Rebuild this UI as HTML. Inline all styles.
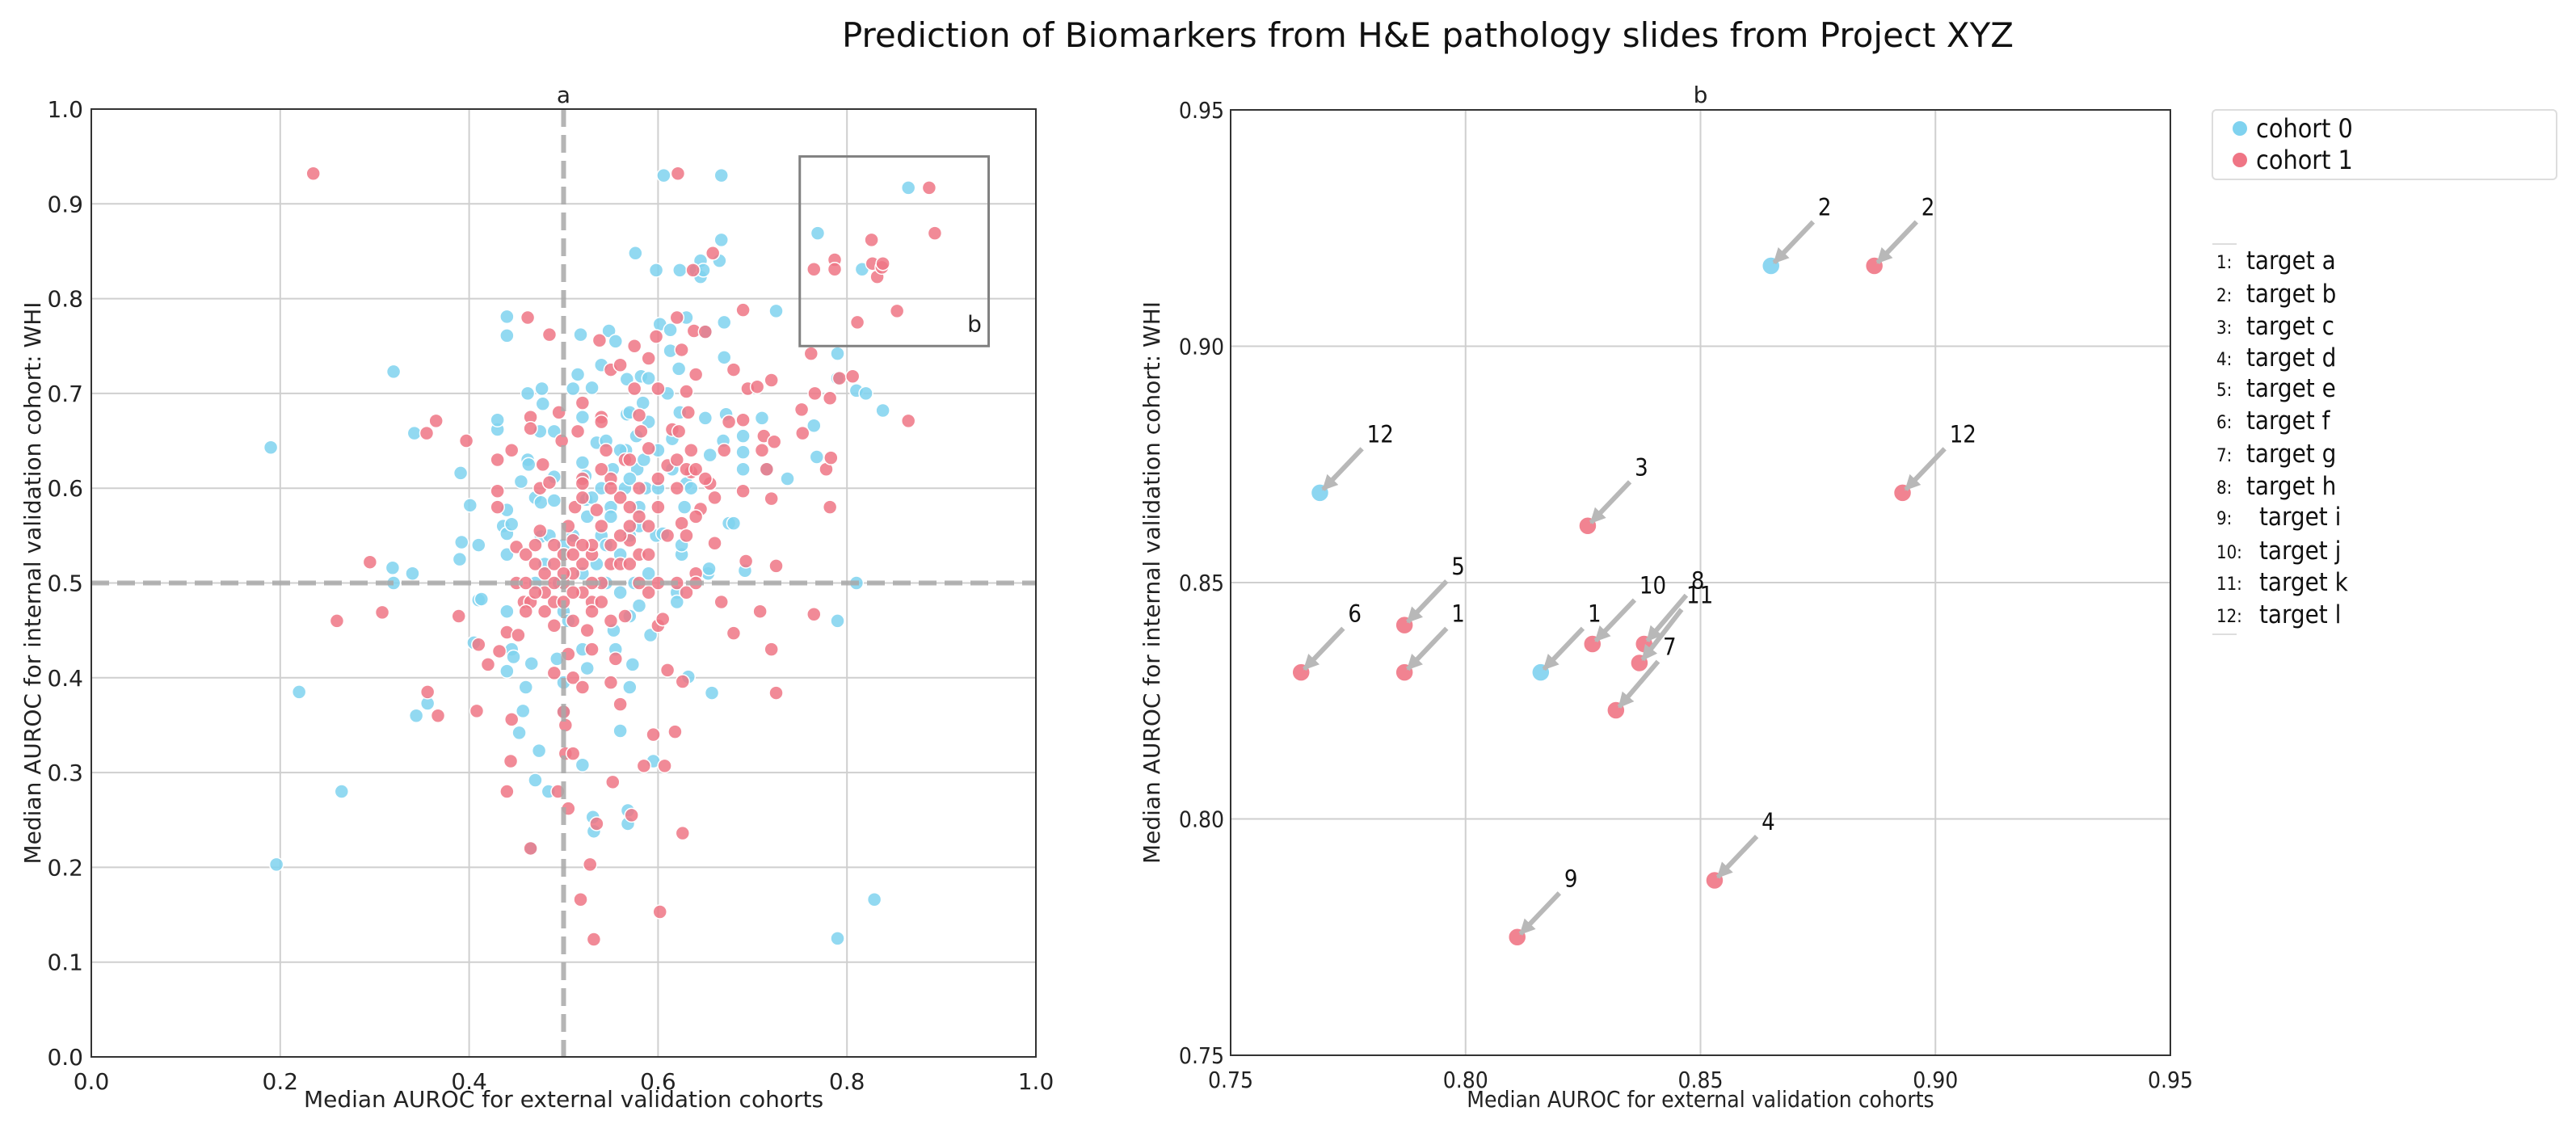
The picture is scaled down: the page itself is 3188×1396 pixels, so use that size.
<!DOCTYPE html>
<html><head><meta charset="utf-8">
<style>
body{margin:0;background:#fff;}
svg{display:block;font-family:"DejaVu Sans","Liberation Sans",sans-serif;}
.cond{font-family:"DejaVu Sans Condensed","DejaVu Sans","Liberation Sans Narrow","Liberation Sans",sans-serif;}
</style></head>
<body>
<svg id="chart" width="3188" height="1396" viewBox="0 0 3188 1396" xmlns="http://www.w3.org/2000/svg">
<text x="1767" y="58" font-size="42" text-anchor="middle" fill="#111">Prediction of Biomarkers from H&amp;E pathology slides from Project XYZ</text>
<g id="left"></g>
<g id="right"></g>
<g id="legend"></g>
</svg>
<script>
const cohort0 = [[0.19,0.643],[0.196,0.203],[0.22,0.385],[0.265,0.28],[0.32,0.723],[0.319,0.516],[0.32,0.50],[0.34,0.51],[0.342,0.658],[0.344,0.36],[0.356,0.373],[0.39,0.525],[0.392,0.543],[0.391,0.616],[0.401,0.582],[0.41,0.54],[0.41,0.482],[0.405,0.437],[0.413,0.483],[0.43,0.662],[0.43,0.672],[0.44,0.761],[0.44,0.781],[0.44,0.577],[0.436,0.56],[0.44,0.552],[0.445,0.562],[0.44,0.53],[0.44,0.47],[0.44,0.407],[0.445,0.43],[0.447,0.422],[0.453,0.342],[0.455,0.607],[0.46,0.39],[0.457,0.365],[0.462,0.70],[0.462,0.63],[0.463,0.625],[0.466,0.415],[0.466,0.22],[0.47,0.292],[0.47,0.59],[0.477,0.705],[0.478,0.689],[0.475,0.66],[0.476,0.585],[0.476,0.549],[0.474,0.323],[0.484,0.28],[0.485,0.55],[0.49,0.612],[0.49,0.587],[0.49,0.66],[0.493,0.42],[0.495,0.5],[0.5,0.365],[0.5,0.395],[0.5,0.47],[0.51,0.705],[0.515,0.72],[0.518,0.762],[0.52,0.675],[0.52,0.627],[0.523,0.613],[0.524,0.588],[0.52,0.43],[0.52,0.308],[0.525,0.41],[0.53,0.706],[0.531,0.253],[0.532,0.238],[0.535,0.648],[0.54,0.73],[0.54,0.60],[0.545,0.65],[0.548,0.766],[0.555,0.755],[0.552,0.62],[0.55,0.58],[0.56,0.53],[0.553,0.45],[0.555,0.43],[0.56,0.344],[0.566,0.64],[0.567,0.678],[0.567,0.715],[0.57,0.68],[0.57,0.465],[0.57,0.39],[0.568,0.26],[0.568,0.246],[0.573,0.414],[0.576,0.848],[0.577,0.655],[0.578,0.62],[0.58,0.58],[0.58,0.56],[0.58,0.476],[0.582,0.718],[0.584,0.69],[0.587,0.6],[0.59,0.67],[0.59,0.716],[0.592,0.445],[0.595,0.312],[0.598,0.83],[0.598,0.55],[0.6,0.64],[0.602,0.773],[0.605,0.552],[0.606,0.93],[0.61,0.7],[0.613,0.767],[0.613,0.745],[0.615,0.652],[0.62,0.49],[0.62,0.48],[0.622,0.726],[0.623,0.83],[0.623,0.68],[0.625,0.53],[0.625,0.54],[0.628,0.58],[0.63,0.78],[0.63,0.605],[0.632,0.401],[0.64,0.83],[0.645,0.84],[0.645,0.823],[0.648,0.83],[0.65,0.765],[0.65,0.674],[0.653,0.51],[0.654,0.515],[0.655,0.635],[0.657,0.384],[0.665,0.84],[0.667,0.93],[0.667,0.862],[0.669,0.65],[0.67,0.775],[0.67,0.738],[0.672,0.678],[0.675,0.563],[0.68,0.563],[0.69,0.655],[0.69,0.638],[0.69,0.62],[0.692,0.513],[0.71,0.674],[0.715,0.62],[0.725,0.787],[0.737,0.61],[0.765,0.666],[0.768,0.633],[0.769,0.869],[0.79,0.742],[0.79,0.716],[0.79,0.46],[0.79,0.125],[0.81,0.5],[0.81,0.703],[0.816,0.831],[0.82,0.70],[0.829,0.166],[0.838,0.682],[0.865,0.917],[0.535,0.52],[0.545,0.5],[0.56,0.49],[0.575,0.5],[0.59,0.51],[0.55,0.57],[0.565,0.6],[0.585,0.63],[0.5,0.54],[0.51,0.55],[0.525,0.57],[0.53,0.59],[0.54,0.55],[0.545,0.54],[0.57,0.55],[0.6,0.6],[0.615,0.62],[0.635,0.6],[0.57,0.61],[0.56,0.64],[0.52,0.51],[0.505,0.46],[0.47,0.5],[0.48,0.52]];
const cohort1 = [[0.235,0.932],[0.26,0.46],[0.295,0.522],[0.308,0.469],[0.355,0.658],[0.365,0.671],[0.356,0.385],[0.367,0.36],[0.389,0.465],[0.397,0.65],[0.408,0.365],[0.41,0.435],[0.42,0.414],[0.43,0.63],[0.43,0.597],[0.43,0.58],[0.432,0.428],[0.44,0.448],[0.44,0.28],[0.444,0.312],[0.445,0.64],[0.445,0.356],[0.45,0.5],[0.45,0.538],[0.452,0.445],[0.46,0.53],[0.458,0.48],[0.462,0.78],[0.465,0.22],[0.465,0.675],[0.465,0.663],[0.465,0.48],[0.47,0.52],[0.475,0.555],[0.475,0.6],[0.478,0.625],[0.48,0.51],[0.48,0.47],[0.485,0.606],[0.485,0.762],[0.49,0.48],[0.49,0.455],[0.49,0.405],[0.49,0.54],[0.494,0.28],[0.495,0.68],[0.498,0.65],[0.5,0.364],[0.502,0.35],[0.502,0.32],[0.505,0.56],[0.51,0.545],[0.51,0.46],[0.505,0.425],[0.505,0.262],[0.51,0.32],[0.51,0.4],[0.512,0.58],[0.515,0.66],[0.518,0.166],[0.52,0.69],[0.52,0.61],[0.52,0.605],[0.52,0.39],[0.525,0.45],[0.528,0.203],[0.53,0.43],[0.53,0.48],[0.532,0.124],[0.535,0.246],[0.535,0.577],[0.538,0.756],[0.54,0.675],[0.54,0.67],[0.545,0.64],[0.55,0.725],[0.55,0.61],[0.55,0.395],[0.552,0.29],[0.555,0.42],[0.56,0.73],[0.56,0.372],[0.565,0.465],[0.565,0.63],[0.57,0.545],[0.572,0.255],[0.575,0.75],[0.575,0.705],[0.58,0.677],[0.582,0.66],[0.585,0.307],[0.59,0.737],[0.59,0.642],[0.59,0.49],[0.595,0.34],[0.598,0.76],[0.6,0.705],[0.6,0.455],[0.602,0.153],[0.605,0.462],[0.607,0.307],[0.61,0.624],[0.61,0.408],[0.615,0.662],[0.618,0.343],[0.62,0.78],[0.622,0.66],[0.625,0.746],[0.625,0.563],[0.626,0.236],[0.626,0.396],[0.63,0.702],[0.632,0.68],[0.635,0.64],[0.635,0.617],[0.637,0.83],[0.638,0.766],[0.64,0.72],[0.64,0.51],[0.645,0.578],[0.65,0.765],[0.655,0.605],[0.658,0.848],[0.66,0.542],[0.667,0.48],[0.67,0.64],[0.675,0.67],[0.68,0.725],[0.68,0.447],[0.69,0.788],[0.69,0.597],[0.69,0.672],[0.693,0.523],[0.695,0.705],[0.705,0.707],[0.708,0.47],[0.71,0.64],[0.712,0.655],[0.715,0.62],[0.72,0.714],[0.72,0.589],[0.72,0.43],[0.723,0.649],[0.725,0.518],[0.725,0.384],[0.752,0.683],[0.753,0.658],[0.762,0.742],[0.765,0.467],[0.766,0.7],[0.778,0.62],[0.782,0.695],[0.783,0.632],[0.782,0.58],[0.792,0.716],[0.806,0.718],[0.811,0.775],[0.826,0.862],[0.827,0.837],[0.832,0.823],[0.837,0.833],[0.838,0.837],[0.853,0.787],[0.865,0.671],[0.887,0.917],[0.893,0.869],[0.787,0.841],[0.787,0.831],[0.765,0.831],[0.621,0.932],[0.5,0.5],[0.51,0.51],[0.52,0.52],[0.53,0.53],[0.54,0.5],[0.55,0.52],[0.53,0.5],[0.52,0.49],[0.5,0.53],[0.49,0.52],[0.48,0.49],[0.47,0.49],[0.5,0.48],[0.51,0.49],[0.53,0.47],[0.54,0.48],[0.55,0.46],[0.56,0.52],[0.57,0.52],[0.58,0.53],[0.58,0.5],[0.59,0.53],[0.6,0.58],[0.6,0.61],[0.62,0.63],[0.63,0.62],[0.64,0.62],[0.65,0.61],[0.66,0.59],[0.62,0.6],[0.61,0.55],[0.63,0.55],[0.64,0.57],[0.56,0.59],[0.57,0.58],[0.58,0.6],[0.54,0.56],[0.53,0.54],[0.55,0.54],[0.52,0.54],[0.51,0.53],[0.5,0.51],[0.56,0.55],[0.57,0.56],[0.58,0.57],[0.59,0.56],[0.52,0.59],[0.55,0.6],[0.54,0.62],[0.57,0.63],[0.6,0.5],[0.62,0.5],[0.63,0.49],[0.64,0.5],[0.47,0.54],[0.46,0.5],[0.49,0.5],[0.46,0.47]];
const leftTicks = [0,0.1,0.2,0.3,0.4,0.5,0.6,0.7,0.8,0.9,1.0];
const leftXTicks = [0,0.2,0.4,0.6,0.8,1.0];
const rightTicks = [0.75,0.80,0.85,0.90,0.95];
// zoom panel annotated points: x, y, cohort, label
const zoomX = [0.865,0.769,0.816,0.887,0.893,0.826,0.787,0.787,0.765,0.827,0.838,0.837,0.832,0.853,0.811];
const zoomY = [0.917,0.869,0.831,0.917,0.869,0.862,0.841,0.831,0.831,0.837,0.837,0.833,0.823,0.787,0.775];
const zoomCohort = [0,0,0,1,1,1,1,1,1,1,1,1,1,1,1];
const zoomLabels = ["2","12","1","2","12","3","5","1","6","10","8","11","7","4","9"];
const zoomTextDX = [0.01,0.01,0.01,0.01,0.01,0.01,0.01,0.01,0.01,0.01,0.01,0.01,0.01,0.01,0.01];
const zoomTextDY = [0.01,0.01,0.01,0.01,0.01,0.01,0.01,0.01,0.01,0.01,0.011,0.012,0.011,0.01,0.01];
const targetNums = ["1:","2:","3:","4:","5:","6:","7:","8:","9:","10:","11:","12:"];
const targetNames = ["target a","target b","target c","target d","target e","target f","target g","target h","target i","target j","target k","target l"];

const NS="http://www.w3.org/2000/svg";
function mk(parent,tag,attrs,text){const e=document.createElementNS(NS,tag);for(const k in attrs)e.setAttribute(k,attrs[k]);if(text!==undefined)e.textContent=text;parent.appendChild(e);return e;}
const C0="#7fd2ef", C1="#ef7585";

// LEFT
const L={x0:113,x1:1282,y0:1308,y1:135};
const lx=v=>L.x0+v*(L.x1-L.x0), ly=v=>L.y0-v*(L.y0-L.y1);
const lg=document.getElementById('left');
leftXTicks.forEach(t=>{
  const l=mk(lg,'line',{x1:lx(t),x2:lx(t),y1:L.y1,y2:L.y0,stroke:'#cfcfcf','stroke-width':2});
  
  
  const tx=mk(lg,'text',{x:lx(t),y:L.y0+40,'font-size':28,'text-anchor':'middle',fill:'#222'},t.toFixed(1));
  
  
});
leftTicks.forEach(t=>{
  const l=mk(lg,'line',{x1:L.x0,x2:L.x1,y1:ly(t),y2:ly(t),stroke:'#cfcfcf','stroke-width':2});
  
  
  const tx=mk(lg,'text',{x:L.x0-10,y:ly(t)+10,'font-size':28,'text-anchor':'end',fill:'#222'},t.toFixed(1));
  
  
});
function dots(g,data,col,xf,yf,r,name){data.forEach(d=>{
  const c=mk(g,'circle',{cx:xf(d[0]),cy:yf(d[1]),r:r,fill:col,'fill-opacity':0.85,stroke:'#fff','stroke-width':1.5});
  
  
});}
dots(lg,cohort0,C0,lx,ly,8.5,'cohort-0-point');
dots(lg,cohort1,C1,lx,ly,8.5,'cohort-1-point');
let e;
e=mk(lg,'line',{x1:lx(0.5),x2:lx(0.5),y1:L.y1,y2:L.y0,stroke:'#a8a8a8','stroke-width':6,'stroke-dasharray':'22,10','stroke-opacity':0.85});

e=mk(lg,'line',{x1:L.x0,x2:L.x1,y1:ly(0.5),y2:ly(0.5),stroke:'#a8a8a8','stroke-width':6,'stroke-dasharray':'22,10','stroke-opacity':0.85});

e=mk(lg,'rect',{x:lx(0.75),y:ly(0.95),width:lx(0.95)-lx(0.75),height:ly(0.75)-ly(0.95),fill:'none',stroke:'#808080','stroke-width':3});

e=mk(lg,'text',{x:lx(0.935),y:ly(0.765),'font-size':28,'text-anchor':'middle',fill:'#222'},'b');

e=mk(lg,'rect',{x:L.x0,y:L.y1,width:L.x1-L.x0,height:L.y0-L.y1,fill:'none',stroke:'#333','stroke-width':2});

e=mk(lg,'text',{x:lx(0.5),y:127,'font-size':28,'text-anchor':'middle',fill:'#222'},'a');

e=mk(lg,'text',{x:(L.x0+L.x1)/2,y:1370,'font-size':28,'text-anchor':'middle',fill:'#222'},'Median AUROC for external validation cohorts');

e=mk(lg,'text',{x:50,y:(L.y0+L.y1)/2,'font-size':28,'text-anchor':'middle',fill:'#222',transform:`rotate(-90 50 ${(L.y0+L.y1)/2})`},'Median AUROC for internal validation cohort: WHI');


// RIGHT
const R={x0:1523,x1:2686,y0:1306,y1:136};
const rx=v=>R.x0+(v-0.75)/0.2*(R.x1-R.x0), ry=v=>R.y0-(v-0.75)/0.2*(R.y0-R.y1);
const rg=document.getElementById('right');
rightTicks.forEach(t=>{
  let l=mk(rg,'line',{x1:rx(t),x2:rx(t),y1:R.y1,y2:R.y0,stroke:'#cfcfcf','stroke-width':2});
  
  l=mk(rg,'line',{x1:R.x0,x2:R.x1,y1:ry(t),y2:ry(t),stroke:'#cfcfcf','stroke-width':2});
  
  let tx=mk(rg,'text',{x:rx(t),y:R.y0+40,'font-size':28,'text-anchor':'middle',fill:'#222',class:'cond'},t.toFixed(2));
  
  tx=mk(rg,'text',{x:R.x0-8,y:ry(t)+10,'font-size':28,'text-anchor':'end',fill:'#222',class:'cond'},t.toFixed(2));
  
});
const defs=mk(rg,'defs',{});
const mkr=mk(defs,'marker',{id:'ah',viewBox:'0 0 10 10',refX:9,refY:5,markerWidth:3.2,markerHeight:3.2,orient:'auto'});
mk(mkr,'path',{d:'M0,0 L10,5 L0,10 z',fill:'#b8b8b8'});
zoomX.forEach((x,i)=>{
  const y=zoomY[i];
  const c=mk(rg,'circle',{cx:rx(x),cy:ry(y),r:11,fill:zoomCohort[i]?C1:C0,'fill-opacity':0.9,stroke:'#fff','stroke-width':1.5});
  
  
});
zoomX.forEach((x,i)=>{
  const y=zoomY[i], tx=x+zoomTextDX[i], ty=y+zoomTextDY[i];
  const a=mk(rg,'line',{x1:rx(tx)-6,y1:ry(ty)+4,x2:rx(x)+4,y2:ry(y)-4,stroke:'#b8b8b8','stroke-width':6,'marker-end':'url(#ah)'});
  
  
  const t=mk(rg,'text',{x:rx(tx),y:ry(ty)-4,'font-size':29,fill:'#111',class:'cond'},zoomLabels[i]);
  
  
});
e=mk(rg,'rect',{x:R.x0,y:R.y1,width:R.x1-R.x0,height:R.y0-R.y1,fill:'none',stroke:'#333','stroke-width':2});

e=mk(rg,'text',{x:(R.x0+R.x1)/2,y:127,'font-size':28,'text-anchor':'middle',fill:'#222'},'b');

e=mk(rg,'text',{x:(R.x0+R.x1)/2,y:1370,'font-size':28,'text-anchor':'middle',fill:'#222',class:'cond'},'Median AUROC for external validation cohorts');

e=mk(rg,'text',{x:1435,y:(R.y0+R.y1)/2,'font-size':28,'text-anchor':'middle',fill:'#222',transform:`rotate(-90 1435 ${(R.y0+R.y1)/2})`},'Median AUROC for internal validation cohort: WHI');


// LEGEND
const lgd=document.getElementById('legend');
e=mk(lgd,'rect',{x:2738,y:136,width:426,height:86,rx:5,fill:'#fff',stroke:'#ddd','stroke-width':2});

[['cohort 0',C0,159],['cohort 1',C1,198]].forEach(r=>{
  let c=mk(lgd,'circle',{cx:2772,cy:r[2],r:9,fill:r[1]});
  
  let t=mk(lgd,'text',{x:2792,y:r[2]+11,'font-size':32,fill:'#111',class:'cond'},r[0]);
  
});
e=mk(lgd,'line',{x1:2738,x2:2768,y1:302,y2:302,stroke:'#ddd','stroke-width':2});

e=mk(lgd,'line',{x1:2738,x2:2768,y1:785,y2:785,stroke:'#ddd','stroke-width':2});

const rowY=[322,363,403,442,480,520,561,601,639,681,720,760];
targetNums.forEach((n,i)=>{
  let t=mk(lgd,'text',{x:2743,y:rowY[i]+10,'font-size':22,fill:'#111',class:'cond'},n);
  
  t=mk(lgd,'text',{x:i>=8?2796:2780,y:rowY[i]+11,'font-size':31,fill:'#111',class:'cond'},targetNames[i]);
  
});
</script>
</body></html>
